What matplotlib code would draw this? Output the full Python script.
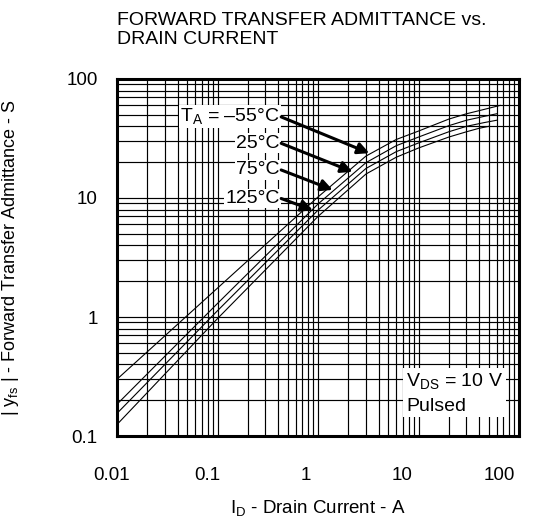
import matplotlib
matplotlib.use("Agg")
import matplotlib.pyplot as plt
from matplotlib.ticker import LogLocator, NullFormatter, FixedLocator
from matplotlib.transforms import ScaledTranslation

# ================= Data =================
temps = ['-55', '25', '75', '125']
id_55 = [0.01, 0.1, 1, 3, 6, 10, 20, 30, 45, 65]
yfs_55 = [0.30, 1.75, 10.2, 22.5, 31, 36.5, 46, 51, 55.5, 60]
id_25 = [0.01, 0.1, 1, 3, 6, 10, 20, 30, 45, 60]
yfs_25 = [0.185, 1.3, 8.9, 19.8, 27.5, 32.5, 40.5, 45, 48.5, 51]
id_75 = [0.01, 0.1, 1, 3, 6, 10, 20, 30, 45, 60]
yfs_75 = [0.155, 1.13, 7.9, 17.7, 24.5, 29, 36, 40, 43, 45]
id_125 = [0.01, 0.1, 1, 3, 6, 10, 20, 30, 40, 50]
yfs_125 = [0.125, 0.97, 7.0, 15.9, 22, 26.3, 32.5, 36, 38.5, 40]

x_ticks = [0.01, 0.1, 1, 10, 100]
x_labels = ['0.01', '0.1', '1', '10', '100']
y_ticks = [0.1, 1, 10, 100]
y_labels = ['0.1', '1', '10', '100']

# label text anchor (right end) and arrow tip for each curve
label_texts = ['T$_\\mathregular{A}$ = \u201355\u00b0C', '25\u00b0C', '75\u00b0C', '125\u00b0C']
label_y = [48, 28.8, 17.2, 9.9]
arrow_tip_x = [3.24, 2.21, 1.40, 0.89]
arrow_tip_y = [23.8, 16.6, 11.7, 7.9]
# =================================================================

plt.rcParams['font.family'] = ['Liberation Sans', 'DejaVu Sans']
plt.rcParams['mathtext.fontset'] = 'custom'
plt.rcParams['mathtext.rm'] = 'Liberation Sans'


def main():
    fig = plt.figure(figsize=(5.43, 5.23), dpi=100)
    ax = fig.add_axes([0.2155, 0.1663, 0.7403, 0.6827])
    ax.set_xscale('log')
    ax.set_yscale('log')
    ax.set_xlim(0.01, 100)
    ax.set_ylim(0.1, 100)

    # dense datasheet grid
    ax.xaxis.set_major_locator(FixedLocator(x_ticks))
    ax.yaxis.set_major_locator(FixedLocator(y_ticks))
    ax.xaxis.set_minor_locator(LogLocator(base=10, subs=range(2, 10)))
    ax.yaxis.set_minor_locator(LogLocator(base=10, subs=range(2, 10)))
    ax.xaxis.set_minor_formatter(NullFormatter())
    ax.yaxis.set_minor_formatter(NullFormatter())
    ax.grid(True, which='both', color='black', linewidth=0.85)
    ax.set_xticklabels(x_labels)
    ax.set_yticklabels(y_labels)
    ax.tick_params(which='both', length=0, labelsize=13.5)
    ax.tick_params(axis='x', pad=22)
    ax.tick_params(axis='y', pad=14)
    # the scanned sheet has its x labels sitting a bit left of the grid lines
    for lab, dx in zip(ax.get_xticklabels(), [-5, -10, -12, -16, -20]):
        lab.set_transform(lab.get_transform() + ScaledTranslation(dx / 100, 0, fig.dpi_scale_trans))
    for sp in ax.spines.values():
        sp.set_linewidth(2.2)

    for xs, ys in [(id_55, yfs_55), (id_25, yfs_25), (id_75, yfs_75), (id_125, yfs_125)]:
        ax.plot(xs, ys, color='black', linewidth=0.8, zorder=3)

    for txt, ly, tx, ty in zip(label_texts, label_y, arrow_tip_x, arrow_tip_y):
        ax.text(0.415, ly, txt, fontsize=14, ha='right', va='center', zorder=5,
                bbox=dict(facecolor='white', edgecolor='none', pad=1))
        ax.annotate('', xy=(tx, ty), xytext=(0.43, ly), zorder=6,
                    arrowprops=dict(arrowstyle='-|>', color='black', lw=2.2,
                                    mutation_scale=17, shrinkA=0, shrinkB=0))

    ax.text(7.5, 0.228, 'V$_\\mathregular{DS}$ = 10 V\nPulsed', fontsize=14,
            ha='left', va='center', linespacing=1.4, zorder=5,
            bbox=dict(facecolor='white', edgecolor='none', pad=2))

    fig.text(0.2155, 0.977, 'FORWARD TRANSFER ADMITTANCE vs.\nDRAIN CURRENT',
             fontsize=14, ha='left', va='top', linespacing=1.15)
    ax.set_xlabel('I$_\\mathregular{D}$ - Drain Current - A', fontsize=13.5, va='top')
    ax.xaxis.set_label_coords(0.5, -0.175)
    ax.set_ylabel('| y$_\\mathregular{fs}$ | - Forward Transfer Admittance - S', fontsize=13)
    ax.yaxis.set_label_coords(-0.24, 0.5)

    fig.savefig('out.png', dpi=100)


if __name__ == "__main__":
    main()
